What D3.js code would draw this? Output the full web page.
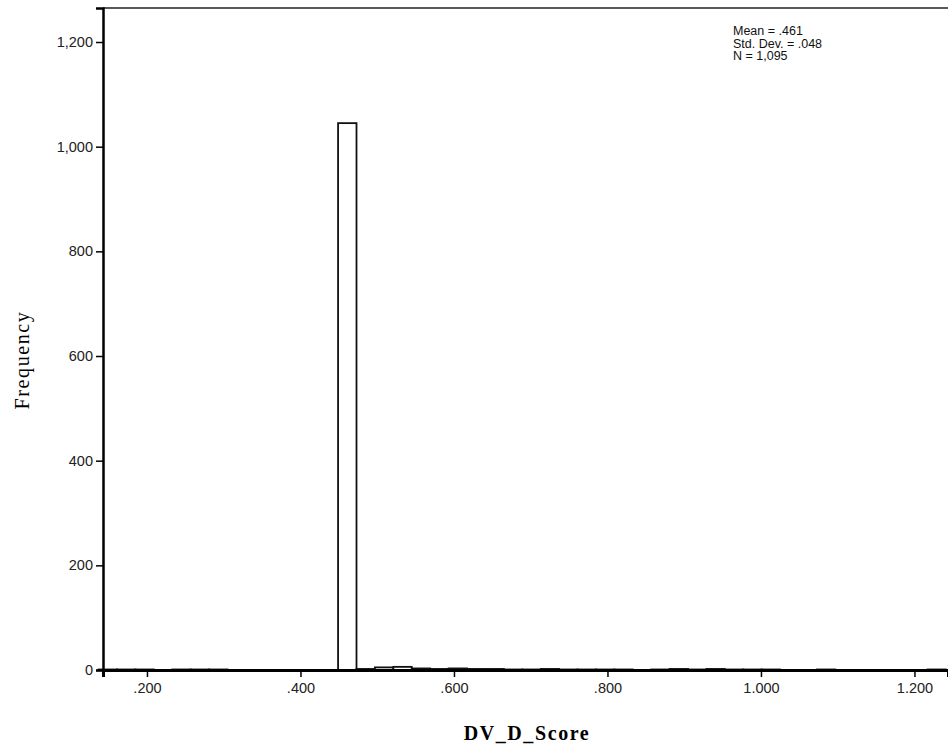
<!DOCTYPE html>
<html><head><meta charset="utf-8">
<script src="https://cdn.jsdelivr.net/npm/d3@7"></script>
<style>body{margin:0;background:#fff}svg{display:block}</style>
</head><body>
<svg id="c" width="948" height="746"></svg>
<script>
const binStart = 0.137;
const binWidth = 0.024;
const counts = [1,1,1,0,1,1,1,0,0,0,0,0,0,1045,2,5,6,3,2,3,2,2,1,1,2,1,1,1,1,0,1,2,1,2,1,1,1,0,0,1,0,0,0,0,0,1];
const yTicks = [0,200,400,600,800,1000,1200];
const xTicks = [0.2,0.4,0.6,0.8,1.0,1.2];
const statsLines = ["Mean = .461","Std. Dev.  = .048","N = 1,095"];
const xTitle = "DV_D_Score";
const yTitle = "Frequency";

const svg = d3.select("#c");
const L = 103, R = 948, T = 8, B = 670;
const x = d3.scaleLinear().domain([0.1427, 1.2437]).range([L, R]);
const y = d3.scaleLinear().domain([0, 1265]).range([B, T]);

const bins = counts.map((c,i)=>({x0: binStart + i*binWidth, x1: binStart + (i+1)*binWidth, c}));
svg.append("g").selectAll("rect").data(bins.filter(d=>d.c>0)).join("rect")
  .attr("x", d=>x(d.x0)).attr("width", d=>x(d.x1)-x(d.x0))
  .attr("y", d=>y(d.c)).attr("height", d=>B - y(d.c))
  .attr("fill","#fff").attr("stroke","#111").attr("stroke-width",1.8);

svg.append("line").attr("x1",L).attr("x2",R).attr("y1",T).attr("y2",T).attr("stroke","#222").attr("stroke-width",1.5);

const yAxis = svg.append("g").attr("transform",`translate(${L},0)`)
  .call(d3.axisLeft(y).tickValues(yTicks).tickSize(7).tickPadding(3).tickFormat(d3.format(",")));
const xAxis = svg.append("g").attr("transform",`translate(0,${B})`)
  .call(d3.axisBottom(x).tickValues(xTicks).tickSize(7).tickPadding(6)
    .tickFormat(d=>d3.format(".3f")(d).replace(/^0\./,".")));
[yAxis,xAxis].forEach(g=>{
  g.select(".domain").attr("stroke","#000").attr("stroke-width",2.5);
  g.selectAll(".tick line").attr("stroke","#000").attr("stroke-width",1.5);
  g.selectAll("text").attr("font-family","Arial, 'Liberation Sans', sans-serif").attr("font-size",14.5).attr("fill","#222");
});
xAxis.select(".domain").attr("stroke-width",3);

svg.append("text").attr("x",527).attr("y",740).attr("text-anchor","middle")
  .attr("font-family","'Liberation Serif','Times New Roman',serif").attr("font-weight","bold").attr("font-size",20)
  .attr("letter-spacing",1.6)
  .text(xTitle);
svg.append("text").attr("transform","translate(29,360) rotate(-90)").attr("text-anchor","middle")
  .attr("font-family","'Liberation Serif','Times New Roman',serif").attr("font-size",20)
  .attr("letter-spacing",1.6)
  .text(yTitle);

svg.append("g").selectAll("text").data(statsLines).join("text")
  .attr("x",733).attr("y",(d,i)=>35+i*12.5)
  .attr("font-family","Arial, 'Liberation Sans', sans-serif").attr("font-size",12.5).attr("fill","#111")
  .text(d=>d);
</script>
</body></html>
